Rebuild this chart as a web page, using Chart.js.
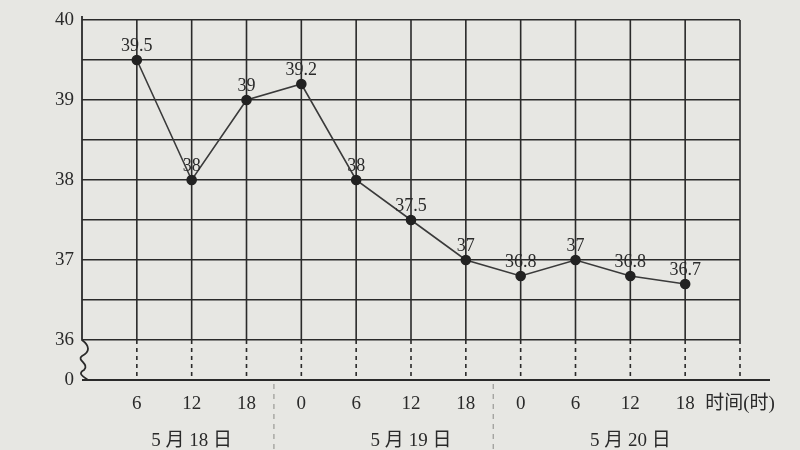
<!DOCTYPE html>
<html><head><meta charset="utf-8">
<script src="https://cdn.jsdelivr.net/npm/chart.js@4"></script>
<style>html,body{margin:0;padding:0;background:#e7e7e3;}#wrap{width:800px;height:450px;}</style>
</head><body><div id="wrap"><canvas id="c" width="800" height="450"></canvas></div>
<script>
const hours = ['', '6', '12', '18', '0', '6', '12', '18', '0', '6', '12', '18', '时间(时)'];
const days  = ['', '', '5 月 18 日', '', '', '', '5 月 19 日', '', '', '', '5 月 20 日', '', ''];
const temps = [null, 39.5, 38, 39, 39.2, 38, 37.5, 37, 36.8, 37, 36.8, 36.7, null];
const yLabels = {35.5: '0', 36: '36', 37: '37', 38: '38', 39: '39', 40: '40'};

const FONT = "'Liberation Serif', 'Noto Sans CJK SC', serif";
const INK = '#2a2a2a';

const labels = hours.map((h, i) => days[i] ? [h, days[i]] : h);

const paperPlugin = {
  id: 'paper',
  beforeDatasetsDraw(chart) {
    const {ctx, chartArea: a, scales: {x, y}} = chart;
    const y36 = y.getPixelForValue(36), y0 = y.getPixelForValue(35.5);
    ctx.save();
    ctx.strokeStyle = INK;
    ctx.lineWidth = 1.6;
    for (let i = 1; i < hours.length; i++) {
      const px = x.getPixelForValue(i);
      ctx.setLineDash([]);
      ctx.beginPath(); ctx.moveTo(px, a.top); ctx.lineTo(px, y36); ctx.stroke();
      ctx.setLineDash([4, 4]);
      ctx.beginPath(); ctx.moveTo(px, y36); ctx.lineTo(px, y0); ctx.stroke();
    }
    ctx.setLineDash([]);
    const lx = x.getPixelForValue(0);
    ctx.lineWidth = 1.8;
    ctx.beginPath(); ctx.moveTo(lx, a.top - 4); ctx.lineTo(lx, y36);
    const h = (y0 - y36);
    ctx.bezierCurveTo(lx + 8, y36 + h*0.15, lx + 8, y36 + h*0.3, lx, y36 + h*0.4);
    ctx.bezierCurveTo(lx - 6, y36 + h*0.5, lx + 8, y36 + h*0.6, lx + 2, y36 + h*0.75);
    ctx.bezierCurveTo(lx - 6, y36 + h*0.85, lx + 4, y36 + h*0.95, lx + 6, y0);
    ctx.stroke();
    ctx.lineWidth = 2;
    ctx.beginPath(); ctx.moveTo(lx, y0); ctx.lineTo(a.right + 30, y0); ctx.stroke();
    ctx.strokeStyle = '#9a9a96'; ctx.lineWidth = 1.2; ctx.setLineDash([5, 5]);
    [3.5, 7.5].forEach(v => {
      const px = x.getPixelForValue(v);
      ctx.beginPath(); ctx.moveTo(px, y0 + 4); ctx.lineTo(px, chart.height); ctx.stroke();
    });
    ctx.restore();
  },
  afterDatasetsDraw(chart) {
    const {ctx} = chart;
    const meta = chart.getDatasetMeta(0);
    ctx.save();
    ctx.fillStyle = INK;
    ctx.font = "18px " + FONT;
    ctx.textAlign = 'center';
    ctx.textBaseline = 'bottom';
    meta.data.forEach((pt, i) => {
      const v = temps[i];
      if (v === null || pt.skip) return;
      ctx.fillText(String(v), pt.x, pt.y - 5);
    });
    ctx.restore();
  }
};

new Chart(document.getElementById('c'), {
  type: 'line',
  data: {
    labels: labels,
    datasets: [{
      data: temps,
      borderColor: '#3a3a3a',
      borderWidth: 1.6,
      pointRadius: 4.5,
      pointBackgroundColor: '#222',
      pointBorderColor: '#222',
      tension: 0,
      spanGaps: false
    }]
  },
  options: {
    responsive: false,
    animation: false,
    layout: {padding: {top: 20, right: 60, left: 0, bottom: 0}},
    plugins: {legend: {display: false}, tooltip: {enabled: false}},
    scales: {
      x: {
        type: 'category',
        offset: false,
        grid: {display: false, drawTicks: false},
        border: {display: false},
        ticks: {
          color: INK, autoSkip: false, maxRotation: 0, padding: 5,
          font: {family: FONT, size: 19, lineHeight: 1.95}
        },
        afterFit(s) { s.height = 70; }
      },
      y: {
        min: 35.5, max: 40,
        grid: {color: INK, lineWidth: 1.6, drawTicks: false},
        border: {display: false},
        ticks: {
          stepSize: 0.5, autoSkip: false, color: INK, padding: 8,
          font: {family: FONT, size: 19},
          callback: v => yLabels[v] !== undefined ? yLabels[v] : ''
        },
        afterFit(s) { s.width = 82; }
      }
    }
  },
  plugins: [paperPlugin]
});
</script></body></html>
